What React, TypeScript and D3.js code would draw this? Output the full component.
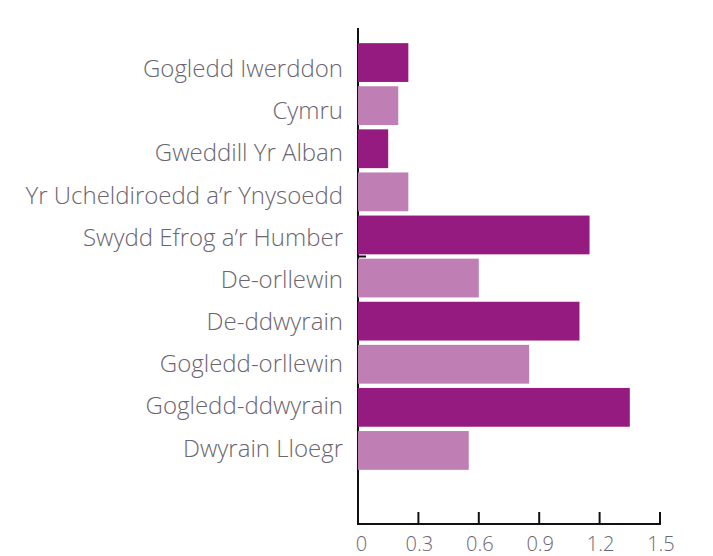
import React from "react";
import * as d3 from "d3";

const categories = [
  "Gogledd Iwerddon",
  "Cymru",
  "Gweddill Yr Alban",
  "Yr Ucheldiroedd a’r Ynysoedd",
  "Swydd Efrog a’r Humber",
  "De-orllewin",
  "De-ddwyrain",
  "Gogledd-orllewin",
  "Gogledd-ddwyrain",
  "Dwyrain Lloegr",
];
const values = [0.25, 0.2, 0.15, 0.25, 1.15, 0.6, 1.1, 0.85, 1.35, 0.55];
const xTicks = [0, 0.3, 0.6, 0.9, 1.2, 1.5];
const tickLabels = ["0", "0.3", "0.6", "0.9", "1.2", "1.5"];
const colors = ["#951b81", "#bf7fb5"];

const W = 713;
const H = 556;
const axisX = 358;
const axisRight = 660;
const axisY = 524;
const axisTop = 28;

export default function App() {
  const x = d3.scaleLinear().domain([0, 1.5]).range([axisX, axisRight]);
  const y = d3
    .scaleBand<string>()
    .domain(categories)
    .range([41, 472])
    .paddingInner(0.1)
    .paddingOuter(0.05);
  const yLabel = d3.scaleBand<string>().domain(categories).range([47.6, 469.1]);
  const bw = y.bandwidth();
  const gap = y.step() - bw;
  const font = "'Open Sans', 'Noto Sans', sans-serif";
  const textColor = "#6b6570";
  const oddTickY = (y(categories[5]) as number) - gap / 2;

  return (
    <svg
      width={W}
      height={H}
      style={{ position: "absolute", left: 0, top: 0, background: "#fff" }}
    >
      <line x1={axisX} x2={axisX} y1={axisTop} y2={axisY} stroke="#111" strokeWidth={2} />
      <line x1={axisX - 1} x2={axisRight + 1} y1={axisY} y2={axisY} stroke="#111" strokeWidth={2} />
      {xTicks.map((t) => (
        <line key={t} x1={x(t)} x2={x(t)} y1={axisY - 12} y2={axisY} stroke="#111" strokeWidth={2} />
      ))}
      <line x1={axisX} x2={axisX + 8} y1={oddTickY} y2={oddTickY} stroke="#111" strokeWidth={2} />
      {categories.map((c, i) => (
        <rect
          key={c}
          x={x(0)}
          y={y(c)}
          width={x(values[i]) - x(0)}
          height={bw}
          fill={colors[i % 2]}
        />
      ))}
      {categories.map((c) => (
        <text
          key={c}
          x={axisX - 15}
          y={(yLabel(c) as number) + yLabel.bandwidth() / 2 + 8.5}
          textAnchor="end"
          fontFamily={font}
          fontWeight={300}
          fontSize={24}
          fill={textColor}
        >
          {c}
        </text>
      ))}
      {xTicks.map((t, i) => (
        <text
          key={t}
          x={x(t) + (i === 0 ? 3.5 : 1)}
          y={551}
          textAnchor="middle"
          fontFamily={font}
          fontWeight={300}
          fontSize={20}
          fill={textColor}
        >
          {tickLabels[i]}
        </text>
      ))}
    </svg>
  );
}
